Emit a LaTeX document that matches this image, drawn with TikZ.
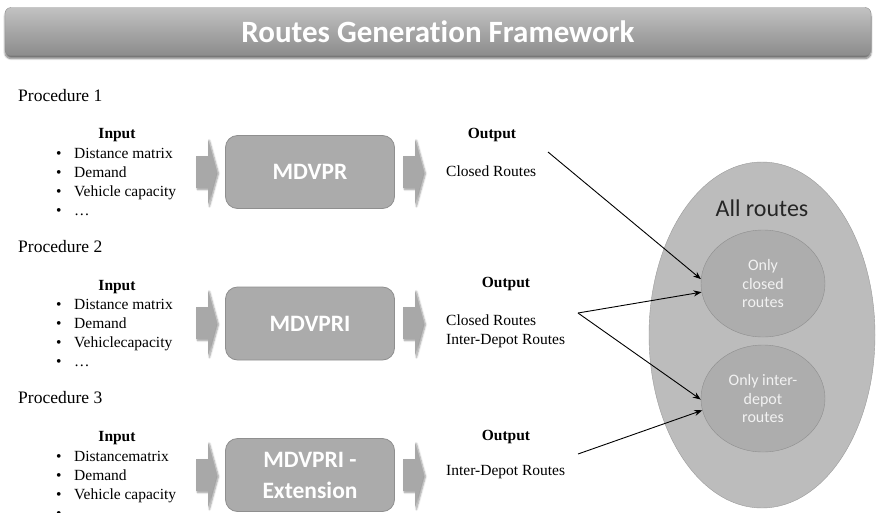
\documentclass[tikz,border=0pt]{standalone}
\usepackage{fontspec}
\setmainfont{Liberation Serif}
\newfontfamily\carl[Ligatures=NoCommon]{Carlito}
\usetikzlibrary{shapes.geometric,arrows.meta,shadows.blur}
\definecolor{boxfill}{HTML}{ABABAB}
\definecolor{boxedge}{HTML}{8F8F8F}
\definecolor{chevfill}{HTML}{A8A8A8}
\definecolor{bigfill}{HTML}{BCBCBC}
\definecolor{bigedge}{HTML}{9A9A9A}
\definecolor{smallfill}{HTML}{ADADAD}
\definecolor{smalledge}{HTML}{8E8E8E}
\definecolor{titletop}{HTML}{C2C2C2}
\definecolor{titlemid}{HTML}{A6A6A6}
\definecolor{titlebot}{HTML}{8C8C8C}
\definecolor{ovaltext}{HTML}{F2F2F2}
\begin{document}
\begin{tikzpicture}[x=1pt,y=-1pt,
  procbox/.style={draw=boxedge, fill=boxfill, rounded corners=12pt, line width=0.8pt,
    minimum width=169pt, minimum height=73pt, inner sep=0pt, text=white, align=center,
    font=\carl\bfseries\fontsize{23.5}{31}\selectfont},
  proclabel/.style={anchor=west, inner sep=0pt, font=\fontsize{17.5}{20}\selectfont},
  head/.style={inner sep=0pt, font=\bfseries\fontsize{15.5}{19}\selectfont},
  plain/.style={inner sep=0pt, align=left, font=\fontsize{15.5}{19}\selectfont},
  chev/.style={fill=chevfill, draw=none, blur shadow={shadow xshift=1.5pt, shadow yshift=-1.5pt, shadow blur steps=5, shadow opacity=40}},
  oval/.style={ellipse, inner sep=0pt, align=center, text=ovaltext, draw=smalledge, fill=smallfill,
    font=\carl\fontsize{16}{18.5}\selectfont, minimum width=124pt, minimum height=107pt},
  link/.style={-{Stealth[length=8pt,width=6pt]}, line width=0.9pt, black}
]
\useasboundingbox (0,0) rectangle (876,512);

% title bar
\node (title) at (438,31.5) [minimum width=866pt, minimum height=48pt, rounded corners=6pt,
  draw=titlebot, top color=titletop, bottom color=titlebot, middle color=titlemid,
  blur shadow={shadow xshift=0pt, shadow yshift=-3pt, shadow blur steps=8, shadow opacity=55},
  text=white, font=\carl\bfseries\fontsize{31}{33}\selectfont] {Routes Generation Framework};

% procedure labels
\node (p1) [proclabel] at (18,96) {Procedure 1};
\node (p2) [proclabel] at (18,247) {Procedure 2};
\node (p3) [proclabel] at (18,398) {Procedure 3};

% inputs
\node (in1) [head] at (117,135) {Input};
\node (in2) [head] at (117,287) {Input};
\node (in3) [head] at (117,438) {Input};

\node (l1) [plain, anchor=north west] at (56,148)
  {\makebox[18pt][l]{\textbullet}Distance matrix\\\makebox[18pt][l]{\textbullet}Demand\\\makebox[18pt][l]{\textbullet}Vehicle capacity\\\makebox[18pt][l]{\textbullet}\ldots};
\node (l2) [plain, anchor=north west] at (56,299)
  {\makebox[18pt][l]{\textbullet}Distance matrix\\\makebox[18pt][l]{\textbullet}Demand\\\makebox[18pt][l]{\textbullet}Vehiclecapacity\\\makebox[18pt][l]{\textbullet}\ldots};
\node (l3) [plain, anchor=north west] at (56,451)
  {\makebox[18pt][l]{\textbullet}Distancematrix\\\makebox[18pt][l]{\textbullet}Demand\\\makebox[18pt][l]{\textbullet}Vehicle capacity\\\makebox[18pt][l]{\textbullet}};

% chevron arrows
\foreach \cx/\cy in {196/172, 403/172, 196/323, 403/323, 196/475, 403/475}{
  \fill[chev] (\cx,\cy-16) -- (\cx+12,\cy-16) -- (\cx+12,\cy-33) -- (\cx+21,\cy) -- (\cx+12,\cy+33) -- (\cx+12,\cy+16) -- (\cx,\cy+16) -- cycle;
}

% process boxes
\node (b1) [procbox] at (310,172) {MDVPR};
\node (b2) [procbox] at (310,323.5) {MDVPRI};
\node (b3) [procbox] at (310,475) {MDVPRI -\\Extension};

% outputs
\node (o1) [head] at (492,135) {Output};
\node (o2) [head] at (506,284) {Output};
\node (o3) [head] at (506,437) {Output};
\node (r1) [plain, anchor=west] at (446,171) {Closed Routes};
\node (r2) [plain, anchor=west] at (446,331) {Closed Routes\\Inter-Depot Routes};
\node (r3) [plain, anchor=west] at (446,472) {Inter-Depot Routes};

% route sets
\node (all) [ellipse, draw=bigedge, fill=bigfill, minimum width=226pt, minimum height=346pt] at (762,335) {};
\node (alllab) [inner sep=0pt, text=black!85, font=\carl\fontsize{24}{26}\selectfont] at (762,208) {All routes};
\node (closed) [oval] at (763,283.5) {Only\\closed\\routes};
\node (inter) [oval] at (763,398.5) {Only inter-\\depot\\routes};

% connectors
\coordinate (s1) at (548,152);
\coordinate (s2) at (578,313);
\coordinate (s3) at (578,454);
\draw[link] (s1) -- (closed.176);
\draw[link] (s2) -- (closed.188);
\draw[link] (s2) -- (inter.181);
\draw[link] (s3) -- (inter.191);
\end{tikzpicture}
\end{document}
